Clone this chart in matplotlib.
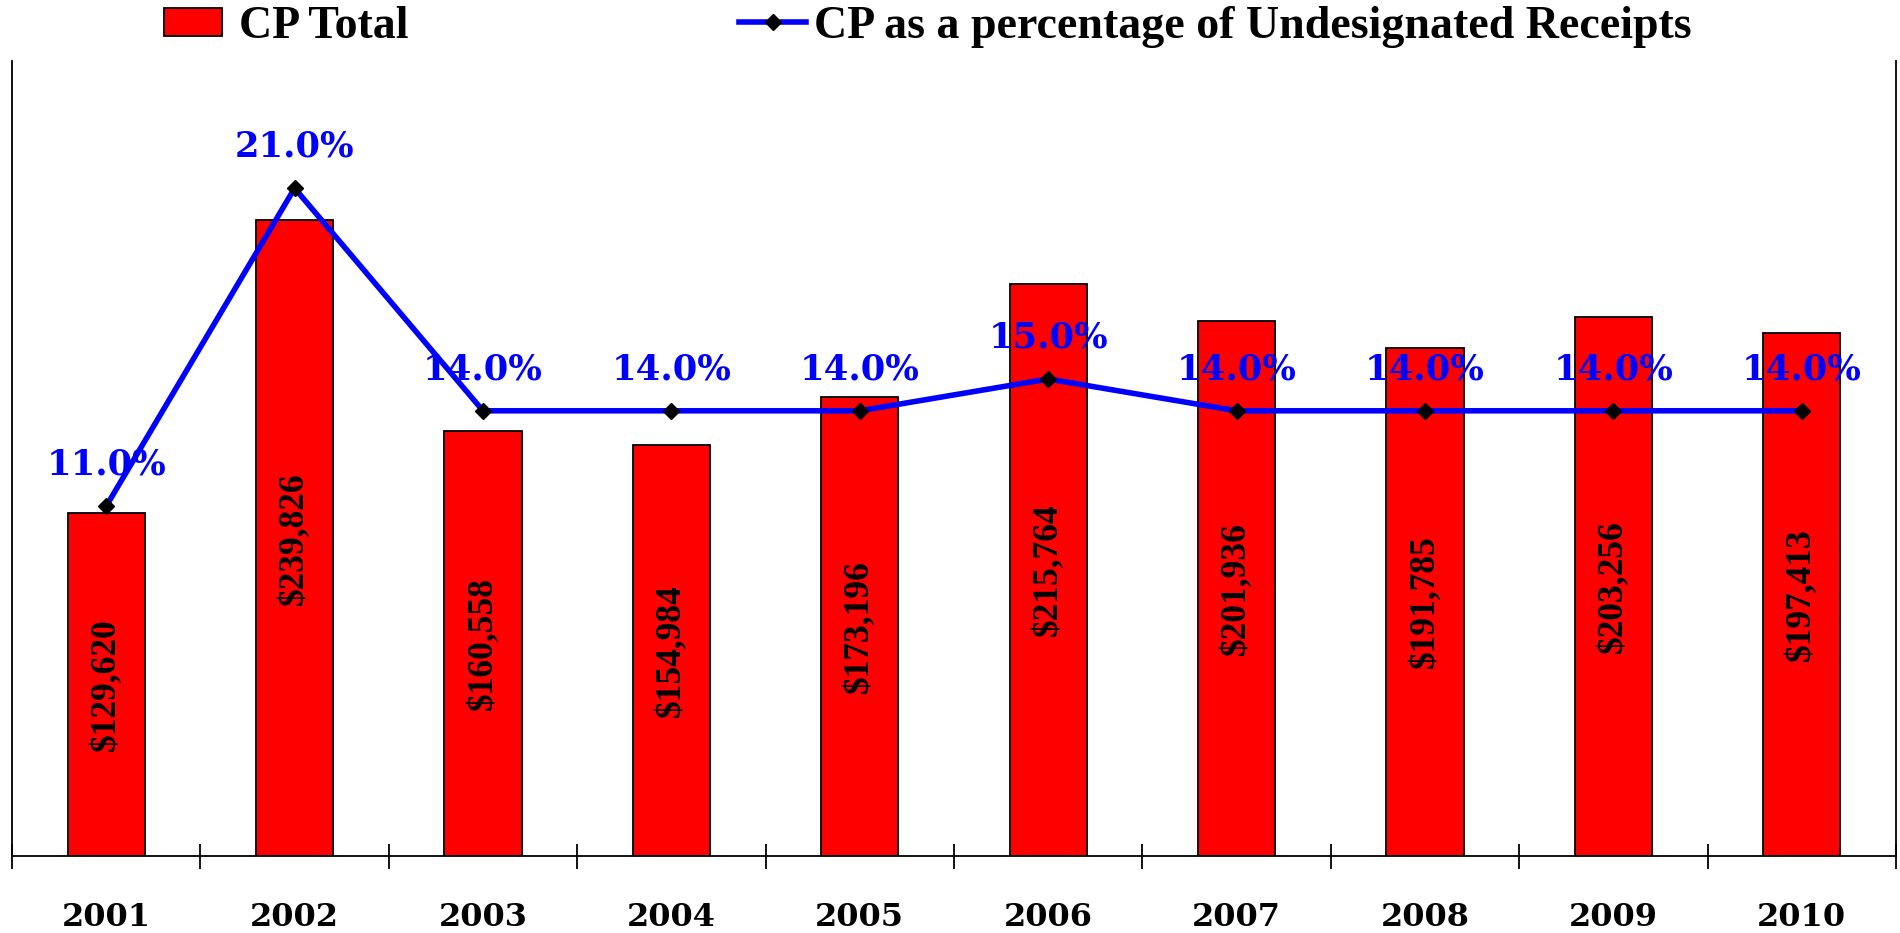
import numpy as np
import matplotlib
matplotlib.use("Agg")
import matplotlib.pyplot as plt
from matplotlib.patches import Rectangle
from matplotlib.lines import Line2D

# --- DATA ---
years = ["2001", "2002", "2003", "2004", "2005", "2006", "2007", "2008", "2009", "2010"]
cp_total = [129620, 239826, 160558, 154984, 173196, 215764, 201936, 191785, 203256, 197413]
cp_pct = [11.0, 21.0, 14.0, 14.0, 14.0, 15.0, 14.0, 14.0, 14.0, 14.0]

# --- STYLE ---
RED = "#FF0000"
BLUE = "#0000FF"
SERIF = ["Liberation Serif", "DejaVu Serif"]
WIDE_SERIF = ["DejaVu Serif"]

fig = plt.figure(figsize=(19, 9.33), dpi=100)
ax = fig.add_axes([12 / 1900, 1 - 856 / 933, 1884 / 1900, (856 - 61) / 933])

x = np.arange(len(years))
bars = ax.bar(x, cp_total, width=0.41, color=RED, edgecolor="black", linewidth=1.3, zorder=2)
ax.set_xlim(-0.5, len(years) - 0.5)
ax.set_ylim(0, 300000)

for b, v in zip(bars, cp_total):
    ax.text(b.get_x() + b.get_width() / 2, v / 2, f"${v:,}", rotation=90,
            ha="center", va="center", fontsize=25.5, fontweight="bold",
            family=SERIF, color="black", zorder=3)

# spines / ticks
ax.spines["top"].set_visible(False)
for s in ("left", "right", "bottom"):
    ax.spines[s].set_linewidth(1.3)
ax.set_yticks([])
ax.set_xticks(np.arange(-0.5, len(years)), labels=[""] * (len(years) + 1))
ax.tick_params(axis="x", which="major", direction="inout", length=18, width=1.3)
ax.set_xticks(x, minor=True)
ax.set_xticklabels(years, minor=True, fontsize=23, fontweight="bold", family=WIDE_SERIF)
ax.tick_params(axis="x", which="minor", length=0, pad=33)

# --- percentage line on secondary axis ---
ax2 = ax.twinx()
ax2.set_ylim(0, 25)
ax2.set_yticks([])
for s in ax2.spines.values():
    s.set_visible(False)
ax2.plot(x, cp_pct, color=BLUE, lw=4, marker="D", markersize=8,
         markerfacecolor="black", markeredgecolor="black", zorder=3)
for xi, p in zip(x, cp_pct):
    ax2.annotate(f"{p:.1f}%", (xi, p), xytext=(0, 30), textcoords="offset points",
                 ha="center", va="center", fontsize=25.5, fontweight="bold",
                 family=WIDE_SERIF, color=BLUE, zorder=4)

# --- LEGEND ---
fs = 33
em = fs * 100 / 72
bar_handle = Rectangle((0, 0), 1, 1, facecolor=RED, edgecolor="black", linewidth=1.3)
line_handle = Line2D([], [], color=BLUE, lw=4, marker="D", markersize=8,
                     markerfacecolor="black", markeredgecolor="black")
leg_font = dict(family=SERIF, weight="bold", size=fs)
fig.legend([bar_handle], ["CP Total"], loc="center left",
           bbox_to_anchor=(164 / 1900, 1 - 27 / 933), frameon=False, borderpad=0,
           borderaxespad=0, handlelength=58 / em, handleheight=25 / em,
           handletextpad=17 / em, prop=leg_font)
fig.legend([line_handle], ["CP as a percentage of Undesignated Receipts"], loc="center left",
           bbox_to_anchor=(739 / 1900, 1 - 27 / 933), frameon=False, borderpad=0,
           borderaxespad=0, handlelength=67 / em, handletextpad=8 / em, prop=leg_font)

fig.savefig("out.png", dpi=100)
